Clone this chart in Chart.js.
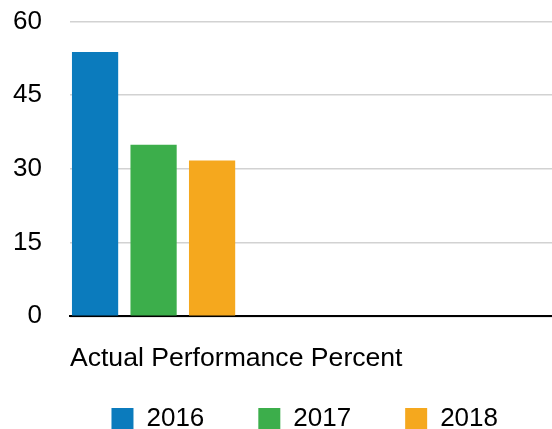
<!DOCTYPE html>
<html>
<head>
<meta charset="utf-8">
<script src="https://cdn.jsdelivr.net/npm/chart.js@4/dist/chart.umd.min.js"></script>
<style>
  html, body { margin: 0; padding: 0; background: #fff; }
  canvas { display: block; }
</style>
</head>
<body>
<canvas id="perfChart" width="552" height="429"></canvas>
<script>
// Actual performance percent by year

const categoryLabel = 'Actual Performance Percent';
const years = [2016, 2017, 2018];
const percents = [53.8, 34.9, 31.7];
const yearColors = ['#0b7bbd', '#3cae4b', '#f5a81e'];

const yMin = 0;
const yMax = 60;
const yStep = 15;

Chart.defaults.font.family = '"Liberation Sans", Arial, Helvetica, sans-serif';
Chart.defaults.color = '#000';

// one dataset per year so each gets its own legend entry
const datasets = years.map((yr, i) => ({
    label: String(yr),
    data: [{ x: yr, y: percents[i] }],
    backgroundColor: yearColors[i],
    borderWidth: 0,
    grouped: false,
    barPercentage: 0.79,
    categoryPercentage: 1
}));

new Chart(document.getElementById('perfChart'), {
    type: 'bar',
    data: { datasets: datasets },
    options: {
        responsive: false,
        animation: false,
        devicePixelRatio: 1,
        layout: {
            padding: { top: 21.5, left: 13, right: 0, bottom: -13 }
        },
        scales: {
            x: {
                type: 'linear',
                offset: false,
                min: 2015.57,
                max: 2023.81,
                z: 1,
                ticks: { display: false, stepSize: 1, includeBounds: false },
                grid: { display: false, drawTicks: false, offset: false },
                border: { display: true, color: '#000', width: 2 },
                title: {
                    display: true,
                    text: categoryLabel,
                    align: 'start',
                    color: '#000',
                    font: { size: 26.6 },
                    padding: { top: 26.4, bottom: -22.6 }
                }
            },
            y: {
                min: yMin,
                max: yMax,
                ticks: { stepSize: yStep, padding: 0, color: '#000', font: { size: 26 } },
                grid: { color: '#d2d2d2', lineWidth: 1.5, drawTicks: true, tickLength: 28, tickColor: 'rgba(0,0,0,0)' },
                border: { display: false }
            }
        },
        plugins: {
            legend: {
                position: 'bottom',
                align: 'end',
                labels: {
                    boxWidth: 22,
                    boxHeight: 22,
                    padding: 54,
                    color: '#000',
                    font: { size: 26 }
                }
            },
            tooltip: { enabled: false }
        }
    }
});
</script>
</body>
</html>
